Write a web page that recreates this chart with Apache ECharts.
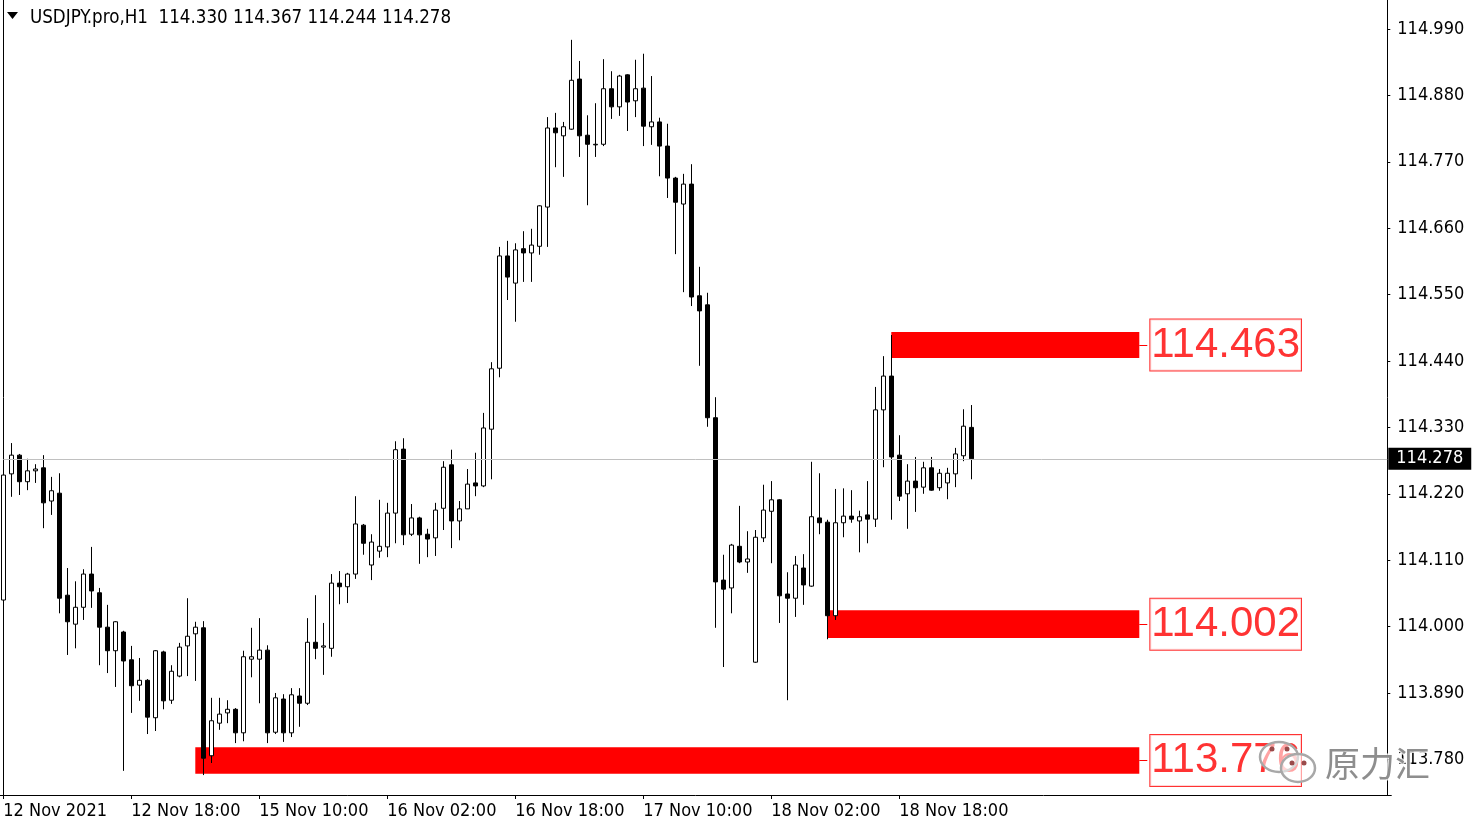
<!DOCTYPE html>
<html><head><meta charset="utf-8">
<script src="https://cdn.jsdelivr.net/npm/echarts@6/dist/echarts.min.js"></script>
<style>html,body{margin:0;padding:0;background:#fff}#c{width:1479px;height:828px}</style>
</head><body><div id="c"></div>
<script>
const symbolName = 'USDJPY.pro,H1';
const tradingDays = [['12 Nov',2,23],['15 Nov',0,23],['16 Nov',0,23],['17 Nov',0,23],['18 Nov',0,23],['19 Nov',0,3]];
const xTickLabels = ['12 Nov 2021','12 Nov 18:00','15 Nov 10:00','16 Nov 02:00','16 Nov 18:00','17 Nov 10:00','18 Nov 02:00','18 Nov 18:00'];
const yTicks = [113.780,113.890,114.000,114.110,114.220,114.330,114.440,114.550,114.660,114.770,114.880,114.990];

const opens = [
114.044,114.253,114.284,114.240,114.258,114.263,114.208,114.221,114.052,114.004,
114.032,114.087,114.056,113.999,113.960,113.991,113.945,113.903,113.911,113.849,
113.958,113.878,113.918,113.968,113.988,113.998,113.786,113.840,113.857,113.863,
113.824,113.946,113.946,113.961,113.825,113.880,113.824,113.885,113.873,113.974,
113.966,113.964,114.072,114.066,114.087,114.168,114.102,114.125,114.132,114.188,
114.294,114.153,114.180,114.153,114.147,114.196,114.268,114.175,114.195,114.238,
114.233,114.327,114.428,114.614,114.569,114.626,114.619,114.630,114.695,114.826,
114.813,114.824,114.907,114.814,114.798,114.799,114.891,114.861,114.914,114.871,
114.892,114.828,114.836,114.796,114.743,114.700,114.733,114.548,114.533,114.346,
114.077,114.064,114.133,114.107,113.941,114.147,114.191,114.210,114.054,114.047,
114.097,114.067,114.180,114.173,114.018,114.172,114.183,114.175,114.185,114.178,
114.359,114.415,114.284,114.220,114.241,114.231,114.263,114.230,114.238,114.253,
114.283,114.330];
const closes = [
114.251,114.284,114.240,114.258,114.261,114.205,114.225,114.047,114.008,114.032,
114.087,114.059,113.999,113.960,114.008,113.943,113.902,113.911,113.850,113.960,
113.877,113.926,113.966,113.984,113.999,113.782,113.844,113.855,113.863,113.824,
113.950,113.950,113.961,113.824,113.882,113.824,113.887,113.873,113.974,113.964,
113.968,114.072,114.066,114.087,114.170,114.138,114.140,114.133,114.188,114.293,
114.152,114.180,114.152,114.145,114.193,114.264,114.175,114.195,114.236,114.233,
114.329,114.427,114.614,114.579,114.624,114.619,114.632,114.697,114.826,114.818,
114.828,114.905,114.813,114.799,114.799,114.891,114.861,114.912,114.869,114.891,
114.829,114.836,114.796,114.743,114.703,114.733,114.546,114.523,114.346,114.074,
114.062,114.135,114.107,114.112,114.148,114.193,114.210,114.051,114.047,114.102,
114.069,114.182,114.172,114.018,114.172,114.183,114.178,114.182,114.178,114.359,
114.415,114.281,114.216,114.241,114.230,114.263,114.226,114.254,114.254,114.286,
114.332,114.278];
const lows = [
114.041,114.215,114.218,114.226,114.238,114.163,114.185,114.022,113.953,113.964,
114.011,114.031,113.936,113.923,113.900,113.761,113.857,113.877,113.822,113.827,
113.863,113.872,113.916,113.918,113.910,113.754,113.774,113.829,113.840,113.807,
113.810,113.916,113.873,113.807,113.822,113.809,113.817,113.834,113.870,113.946,
113.920,113.950,114.037,114.039,114.079,114.119,114.077,114.114,114.115,114.138,
114.135,114.150,114.104,114.115,114.117,114.160,114.130,114.143,114.195,114.216,
114.231,114.244,114.413,114.541,114.505,114.571,114.571,114.616,114.629,114.761,
114.745,114.823,114.778,114.698,114.778,114.796,114.841,114.846,114.821,114.844,
114.796,114.798,114.746,114.710,114.617,114.554,114.531,114.432,114.331,113.998,
113.933,114.022,114.105,114.089,113.940,114.140,114.105,114.006,113.878,114.016,
114.036,114.066,114.153,113.979,114.011,114.148,114.172,114.123,114.138,114.165,
114.264,114.177,114.208,114.162,114.190,114.220,114.225,114.225,114.211,114.231,
114.274,114.244];
const highs = [
114.259,114.304,114.286,114.278,114.269,114.284,114.248,114.254,114.097,114.075,
114.095,114.132,114.064,114.036,114.009,113.993,113.968,113.948,113.913,113.961,
113.960,113.936,113.973,114.047,114.008,114.009,113.882,113.882,113.878,113.865,
113.960,113.998,114.014,113.969,113.890,113.888,113.898,113.898,114.014,114.052,
114.006,114.087,114.092,114.089,114.216,114.170,114.153,114.210,114.205,114.307,
114.312,114.203,114.182,114.162,114.205,114.274,114.293,114.208,114.261,114.288,
114.354,114.438,114.629,114.639,114.635,114.655,114.659,114.698,114.844,114.851,
114.836,114.972,114.937,114.847,114.867,114.940,114.920,114.914,114.915,114.939,
114.949,114.912,114.843,114.833,114.745,114.750,114.766,114.596,114.553,114.380,
114.119,114.137,114.200,114.158,114.160,114.235,114.241,114.211,114.090,114.117,
114.120,114.273,114.254,114.177,114.228,114.229,114.226,114.192,114.241,114.397,
114.448,114.483,114.317,114.269,114.281,114.273,114.281,114.261,114.263,114.296,
114.360,114.367];

const zoneStart = [24, 103, 111];
const zoneEnd = 142;
const zoneTop = [113.800, 114.027, 114.488];
const zoneBottom = [113.756, 113.981, 114.445];
const zoneLabels = ['113.776', '114.002', '114.463'];
const bidPrice = 114.278;

// build categories (hourly bars) + empty future slots
const TOTAL_SLOTS = 174;
const categories = [];
tradingDays.forEach(([d, h0, h1]) => { for (let h = h0; h <= h1; h++) categories.push(d + ' ' + String(h).padStart(2,'0') + ':00'); });
const nBars = categories.length;
for (let i = categories.length; i < TOTAL_SLOTS; i++) categories.push('f' + i);

const candles = opens.map((o, i) => [o, closes[i], lows[i], highs[i]]);
const last = nBars - 1;
const header = symbolName + '  ' + [opens[last], highs[last], lows[last], closes[last]].map(v => v.toFixed(3)).join(' ');

const F = "'DejaVu Sans Condensed','Liberation Sans',sans-serif";
const Y_MIN = 113.721, Y_MAX = 115.038;

const chart = echarts.init(document.getElementById('c'), null, {renderer: 'canvas'});
chart.setOption({
  animation: false,
  backgroundColor: '#fff',
  title: { text: header, left: 30, top: 9, padding: 0, textStyle: { fontFamily: F, fontSize: 18.6, fontWeight: 'normal', color: '#000' } },
  grid: { left: -0.7, right: 1479 - (-0.7 + 8 * TOTAL_SLOTS), top: 0, bottom: 33, outerBoundsMode: 'none' },
  xAxis: {
    type: 'category', data: categories, boundaryGap: true,
    axisLine: { show: true, lineStyle: { color: '#000', width: 1 } },
    axisTick: { show: true, alignWithLabel: true, length: 4, lineStyle: { color: '#000' }, interval: (i) => i % 16 === 0 && i < nBars },
    axisLabel: { show: true, interval: (i) => i % 16 === 0 && i < nBars, align: 'left', margin: 7,
      fontFamily: F, fontSize: 18, color: '#000',
      formatter: (v, i) => (i % 16 === 0 && i / 16 < xTickLabels.length) ? xTickLabels[i / 16] : '' },
    splitLine: { show: false }
  },
  yAxis: [{
    type: 'value', position: 'right', offset: -4, min: Y_MIN, max: Y_MAX, scale: true,
    axisLine: { show: true, lineStyle: { color: '#000', width: 1 } },
    axisTick: { show: true, length: 3, customValues: yTicks, lineStyle: { color: '#000' } },
    axisLabel: { show: true, customValues: yTicks, margin: 10, fontFamily: F, fontSize: 18, color: '#000', formatter: v => v.toFixed(3) },
    splitLine: { show: false }
  }, {
    type: 'value', position: 'left', offset: -3.5, min: Y_MIN, max: Y_MAX,
    axisLine: { show: true, lineStyle: { color: '#000', width: 1 } },
    axisTick: { show: false }, axisLabel: { show: false }, splitLine: { show: false }
  }],
  series: [{
    type: 'candlestick', yAxisIndex: 0, data: candles, barWidth: 4,
    itemStyle: { color: '#fff', color0: '#000', borderColor: '#000', borderColor0: '#000', borderColorDoji: '#000', borderWidth: 1 },
    markArea: {
      silent: true, itemStyle: { color: '#ff0000', opacity: 1 },
      data: zoneStart.map((s, i) => [{ xAxis: s, yAxis: zoneTop[i] }, { xAxis: zoneEnd, yAxis: zoneBottom[i] }])
    },
    markLine: {
      silent: true, symbol: 'none',
      lineStyle: { color: '#c0c0c0', type: 'solid', width: 1 },
      data: [[{ xAxis: 0, yAxis: bidPrice }, { xAxis: TOTAL_SLOTS - 1, yAxis: bidPrice }]],
      label: { show: true, position: 'end', distance: 1, formatter: bidPrice.toFixed(3), color: '#fff', backgroundColor: '#000',
        padding: [2, 8, 2, 8], fontFamily: F, fontSize: 18, lineHeight: 18 }
    }
  }, {
    type: 'scatter', yAxisIndex: 0, symbolSize: 0, z: 5,
    data: zoneLabels.map((t, i) => ({ value: [zoneEnd + 1, (zoneTop[i] + zoneBottom[i]) / 2], name: t })),
    label: { show: true, position: 'right', distance: 3, formatter: p => p.name,
      color: '#ff0000', fontFamily: "'Liberation Sans',sans-serif", fontSize: 42, lineHeight: 46,
      backgroundColor: '#fff', borderColor: '#ff0000', borderWidth: 1, padding: [4, 1, 1, 1] },
    markLine: {
      silent: true, symbol: 'none', lineStyle: { color: '#ff0000', type: 'solid', width: 1 }, label: { show: false },
      data: zoneLabels.map((t, i) => [{ coord: [zoneEnd, (zoneTop[i] + zoneBottom[i]) / 2] }, { coord: [zoneEnd + 1, (zoneTop[i] + zoneBottom[i]) / 2] }])
    }
  }],
  graphic: [
    { type: 'polygon', z: 10, shape: { points: [[7, 12], [18, 12], [12.5, 19]] }, style: { fill: '#000' } },
    { type: 'ellipse', z: 100, zlevel: 1, shape: { cx: 1279, cy: 757, rx: 19, ry: 15 }, style: { fill: 'rgba(255,255,255,0.55)', stroke: '#a8a8a8', lineWidth: 2.5 } },
    { type: 'ellipse', z: 101, zlevel: 1, shape: { cx: 1298, cy: 768, rx: 17, ry: 14 }, style: { fill: 'rgba(255,255,255,0.55)', stroke: '#a8a8a8', lineWidth: 2.5 } },
    { type: 'circle', z: 102, zlevel: 1, shape: { cx: 1272, cy: 749, r: 2.5 }, style: { fill: '#9a4a4a' } },
    { type: 'circle', z: 102, zlevel: 1, shape: { cx: 1287, cy: 749, r: 2.5 }, style: { fill: '#9a4a4a' } },
    { type: 'circle', z: 102, zlevel: 1, shape: { cx: 1292, cy: 763, r: 2.5 }, style: { fill: '#9a4a4a' } },
    { type: 'circle', z: 102, zlevel: 1, shape: { cx: 1304, cy: 763, r: 2.5 }, style: { fill: '#9a4a4a' } },
    { type: 'text', z: 103, zlevel: 1, x: 1325, y: 764, style: { text: '原力汇', fill: '#8e8e8e', stroke: 'rgba(255,255,255,0.8)', lineWidth: 3,
      font: "35px 'Noto Sans CJK SC',sans-serif", verticalAlign: 'middle', align: 'left' } }
  ]
});
</script></body></html>
